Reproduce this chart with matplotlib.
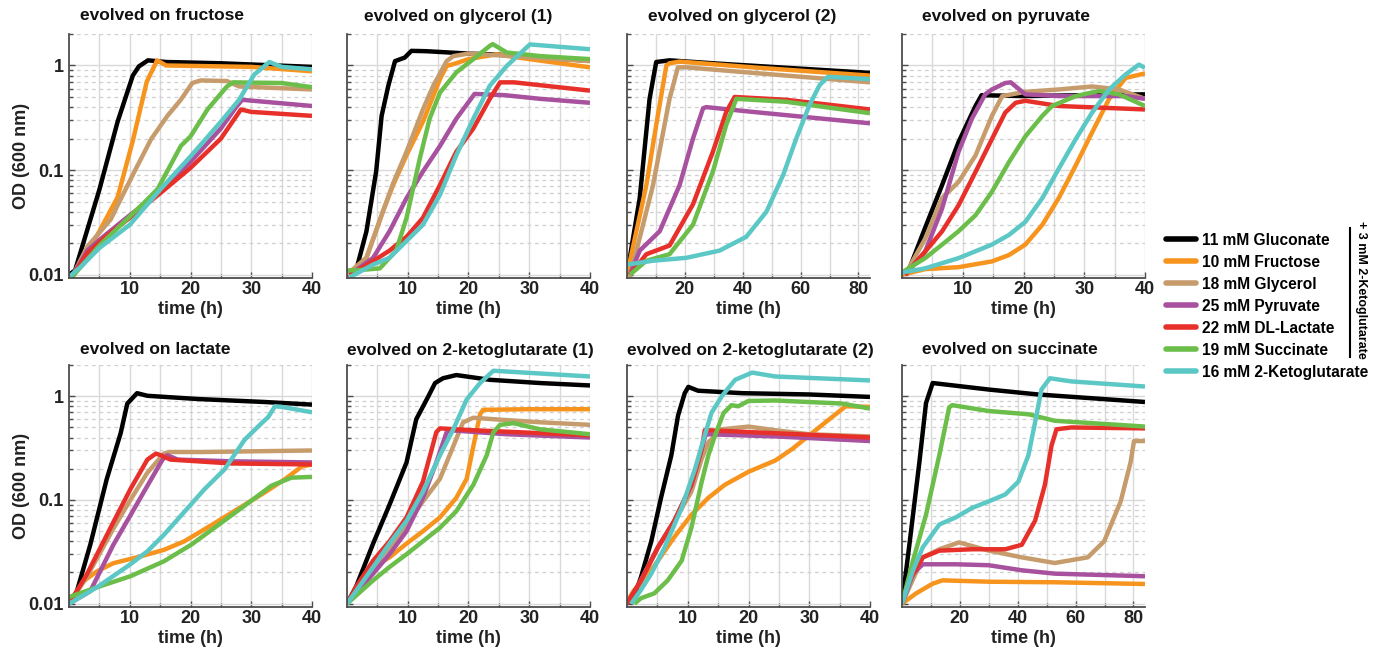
import matplotlib
matplotlib.use("Agg")
import matplotlib.pyplot as plt
from matplotlib.ticker import FixedLocator, NullFormatter, LogLocator
from matplotlib.lines import Line2D
from matplotlib import font_manager

plt.rcParams['font.family'] = ['Liberation Sans', 'DejaVu Sans']
plt.rcParams['font.weight'] = 'bold'

# ---------------- data (time in h, OD600) ----------------
media = ["gluconate", "fructose", "glycerol", "pyruvate", "lactate", "succinate", "ketoglutarate"]
legend_labels = ["11 mM Gluconate", "10 mM Fructose", "18 mM Glycerol", "25 mM Pyruvate",
                 "22 mM DL-Lactate", "19 mM Succinate", "16 mM 2-Ketoglutarate"]
colors = ["#000000", "#F7941D", "#C69C6D", "#A8519F", "#E8302A", "#6BBE4A", "#5BC8C6"]

titles = ["evolved on fructose", "evolved on glycerol (1)", "evolved on glycerol (2)", "evolved on pyruvate",
          "evolved on lactate", "evolved on 2-ketoglutarate (1)", "evolved on 2-ketoglutarate (2)",
          "evolved on succinate"]
xmax = [40, 40, 84, 40, 40, 40, 40, 84]
xticks_40 = [10, 20, 30, 40]
xticks_80 = [20, 40, 60, 80]

evolved_fructose = {
    "gluconate": ([0, 1, 5, 8, 10.5, 11.5, 13, 16, 25, 40],
                  [0.010, 0.011, 0.065, 0.29, 0.80, 0.98, 1.12, 1.08, 1.05, 0.97]),
    "fructose": ([0.5, 3, 5, 8, 10.5, 12.8, 14.5, 16, 30, 40],
                 [0.0095, 0.016, 0.026, 0.055, 0.19, 0.70, 1.12, 1.0, 0.97, 0.88]),
    "glycerol": ([0.5, 3, 5.2, 6.9, 8, 10.7, 13.5, 16.2, 18.4, 20.3, 21.7, 26, 28, 40],
                 [0.0095, 0.0185, 0.026, 0.034, 0.046, 0.095, 0.197, 0.33, 0.47, 0.68, 0.72, 0.71, 0.63, 0.59]),
    "pyruvate": ([0.5, 3, 6, 10, 15, 20, 25, 27.5, 28.5, 40],
                 [0.0095, 0.017, 0.024, 0.037, 0.062, 0.12, 0.25, 0.40, 0.47, 0.41]),
    "lactate": ([0.5, 3, 6, 10, 15, 20, 25, 28.3, 30, 40],
                [0.0095, 0.016, 0.023, 0.035, 0.060, 0.105, 0.20, 0.38, 0.36, 0.33]),
    "succinate": ([0.5, 5, 10, 12.4, 14.6, 18.4, 20, 22.8, 26, 27, 35, 40],
                  [0.0095, 0.019, 0.036, 0.049, 0.066, 0.17, 0.21, 0.38, 0.63, 0.69, 0.68, 0.62]),
    "ketoglutarate": ([0, 2, 5, 10, 15, 20, 25, 28, 30.5, 33, 35, 40],
                      [0.0095, 0.012, 0.018, 0.030, 0.065, 0.135, 0.29, 0.47, 0.82, 1.08, 0.97, 0.92]),
}

evolved_glycerol_1 = {
    "gluconate": ([0, 1.5, 3.2, 4.8, 5.7, 6.8, 7.9, 9.5, 10.6, 13, 20, 25, 30, 40],
                  [0.010, 0.011, 0.026, 0.097, 0.33, 0.64, 1.10, 1.19, 1.38, 1.37, 1.30, 1.27, 1.20, 1.11]),
    "fructose": ([0, 3.2, 5.9, 7.6, 9.8, 12.5, 15.3, 16.4, 17.5, 20, 24.6, 30, 40],
                 [0.010, 0.0145, 0.040, 0.072, 0.139, 0.29, 0.74, 0.99, 1.03, 1.15, 1.28, 1.15, 0.96]),
    "glycerol": ([0, 3.2, 5.9, 7.6, 9.8, 12.5, 14.2, 16.4, 17.5, 20, 30, 40],
                 [0.010, 0.0145, 0.040, 0.075, 0.15, 0.38, 0.64, 1.10, 1.23, 1.30, 1.20, 1.10]),
    "pyruvate": ([0.5, 4.3, 7, 9.8, 12.5, 15.3, 18, 21, 26, 31.8, 40],
                 [0.010, 0.0145, 0.026, 0.054, 0.097, 0.17, 0.31, 0.535, 0.52, 0.48, 0.44]),
    "lactate": ([0.5, 4.3, 7, 9.8, 12.5, 15.3, 18, 20.8, 23.5, 25.2, 27.5, 40],
                [0.010, 0.0135, 0.017, 0.023, 0.035, 0.072, 0.15, 0.25, 0.48, 0.69, 0.69, 0.575]),
    "succinate": ([0, 1.5, 5.4, 8.1, 9.8, 12, 13.6, 15.3, 18, 20.8, 23.5, 24, 26.3, 31.8, 40],
                  [0.011, 0.011, 0.0115, 0.017, 0.035, 0.13, 0.31, 0.55, 0.86, 1.15, 1.54, 1.60, 1.33, 1.23, 1.15]),
    "ketoglutarate": ([0.5, 4.3, 7, 9.8, 12.5, 15.3, 18, 20.8, 23.5, 26.3, 30.1, 40],
                      [0.0095, 0.0125, 0.0145, 0.021, 0.030, 0.058, 0.139, 0.31, 0.64, 0.99, 1.59, 1.43]),
}

evolved_glycerol_2 = {
    "gluconate": ([0, 4.4, 7.8, 10.1, 14.7, 32, 84],
                  [0.010, 0.054, 0.48, 1.08, 1.12, 1.04, 0.85]),
    "fructose": ([0, 6.7, 10.1, 13.6, 14.7, 18.2, 43.5, 84],
                 [0.010, 0.072, 0.27, 1.0, 1.05, 1.09, 0.96, 0.80]),
    "glycerol": ([1, 9, 14.7, 17.6, 20.5, 43.5, 84],
                 [0.0095, 0.072, 0.48, 0.96, 0.96, 0.85, 0.69]),
    "pyruvate": ([1, 4.4, 11.3, 18.2, 22.8, 26.3, 27.4, 43.5, 84],
                 [0.010, 0.017, 0.026, 0.072, 0.20, 0.39, 0.40, 0.36, 0.28]),
    "lactate": ([1, 6.7, 14.7, 22.8, 29.7, 34.3, 37.2, 55, 84],
                [0.010, 0.0157, 0.019, 0.047, 0.15, 0.36, 0.50, 0.47, 0.38]),
    "succinate": ([1, 6.7, 14.7, 22.8, 29.7, 34.3, 37.8, 55, 84],
                  [0.010, 0.0136, 0.0157, 0.030, 0.097, 0.27, 0.48, 0.45, 0.35]),
    "ketoglutarate": ([0, 9, 20.5, 32, 41.2, 48.2, 54, 58.5, 63.1, 66.6, 69.5, 84],
                      [0.0125, 0.0136, 0.0145, 0.017, 0.023, 0.040, 0.09, 0.20, 0.42, 0.65, 0.78, 0.74]),
}

evolved_pyruvate = {
    "gluconate": ([0, 1.1, 3.8, 6.6, 9.3, 12.1, 13.1, 20, 40],
                  [0.010, 0.011, 0.028, 0.072, 0.185, 0.41, 0.52, 0.51, 0.53]),
    "fructose": ([0, 3.8, 9.3, 14.8, 17.6, 20.3, 23.1, 25.8, 28.6, 31.3, 34.1, 36.8, 40],
                 [0.010, 0.0113, 0.0118, 0.0134, 0.0154, 0.0194, 0.030, 0.054, 0.111, 0.23, 0.48, 0.76, 0.84]),
    "glycerol": ([0.5, 3.8, 6.6, 9.3, 12.1, 14.8, 16.5, 20.3, 25.8, 31.3, 35.7, 40],
                 [0.010, 0.022, 0.054, 0.077, 0.138, 0.33, 0.51, 0.56, 0.59, 0.63, 0.59, 0.48]),
    "pyruvate": ([0.5, 3.8, 6.6, 9.3, 11.5, 13.7, 14.8, 17, 17.9, 20.3, 25.8, 36.8, 40],
                 [0.010, 0.0166, 0.043, 0.149, 0.31, 0.53, 0.59, 0.68, 0.69, 0.53, 0.51, 0.51, 0.48]),
    "lactate": ([0.5, 3.8, 6.6, 9.3, 12.1, 14.8, 17, 18.7, 20.3, 25.8, 40],
                [0.010, 0.0166, 0.026, 0.046, 0.096, 0.198, 0.355, 0.44, 0.46, 0.41, 0.38]),
    "succinate": ([0, 3.8, 6.6, 9.3, 12.1, 14.8, 17.6, 20.3, 23.1, 24.7, 28.6, 32.4, 35.7, 40],
                  [0.0105, 0.0144, 0.0194, 0.026, 0.037, 0.062, 0.119, 0.21, 0.33, 0.41, 0.51, 0.57, 0.53, 0.41]),
    "ketoglutarate": ([0, 3.8, 9.3, 14.8, 17.6, 20.3, 23.1, 25.8, 28.6, 31.3, 34.1, 36.8, 39, 40],
                      [0.0105, 0.0115, 0.0144, 0.0194, 0.024, 0.032, 0.054, 0.103, 0.198, 0.355, 0.59, 0.82, 1.02, 0.95]),
}

evolved_lactate = {
    "gluconate": ([0, 1.3, 3.5, 6.2, 8.5, 9.6, 11.2, 12.9, 21.2, 32.2, 40],
                  [0.010, 0.0132, 0.037, 0.158, 0.44, 0.85, 1.07, 1.01, 0.94, 0.88, 0.83]),
    "fructose": ([0, 2.4, 4.6, 7.3, 11.2, 15.6, 19, 23.4, 27.8, 32.2, 35.5, 38.3, 40],
                 [0.010, 0.0165, 0.0205, 0.0246, 0.028, 0.033, 0.040, 0.057, 0.082, 0.118, 0.158, 0.21, 0.22]),
    "glycerol": ([0, 2.9, 7.3, 10.1, 12.9, 15.6, 16.5, 22, 40],
                 [0.010, 0.018, 0.053, 0.10, 0.183, 0.28, 0.29, 0.29, 0.30]),
    "pyruvate": ([0, 3.5, 7.3, 10.1, 12.9, 15.4, 16.2, 17.9, 26.7, 40],
                 [0.010, 0.0132, 0.037, 0.071, 0.137, 0.245, 0.27, 0.245, 0.236, 0.23]),
    "lactate": ([0, 2.9, 7.3, 10.1, 12.9, 14.3, 15.1, 16.7, 26.7, 40],
                [0.010, 0.019, 0.061, 0.127, 0.245, 0.28, 0.27, 0.245, 0.225, 0.22]),
    "succinate": ([0, 4.6, 10.1, 15.6, 20.1, 24.5, 28.9, 33.3, 36.6, 40],
                  [0.0116, 0.0144, 0.0184, 0.0256, 0.037, 0.057, 0.088, 0.137, 0.164, 0.167]),
    "ketoglutarate": ([0, 4.6, 10.1, 12.9, 15.6, 19, 22.3, 25.6, 28.9, 31.7, 32.8, 33.9, 35, 40],
                      [0.010, 0.0144, 0.024, 0.032, 0.046, 0.077, 0.127, 0.197, 0.38, 0.55, 0.63, 0.80, 0.79, 0.70]),
}

evolved_ketoglutarate_1 = {
    "gluconate": ([0, 1.5, 4.3, 7, 9.8, 11.4, 13.4, 14.5, 15.8, 18, 23.5, 31.8, 40],
                  [0.010, 0.0146, 0.038, 0.090, 0.23, 0.60, 1.0, 1.34, 1.49, 1.60, 1.44, 1.34, 1.27]),
    "fructose": ([0, 4.3, 7, 9.8, 12.5, 15.3, 18, 19.7, 20.8, 21.9, 22.4, 30, 40],
                 [0.010, 0.0226, 0.028, 0.038, 0.050, 0.068, 0.105, 0.16, 0.33, 0.67, 0.74, 0.75, 0.75]),
    "glycerol": ([0, 4.3, 7, 9.8, 12.5, 15.3, 17.5, 19.1, 20.8, 26, 32, 40],
                 [0.010, 0.0226, 0.035, 0.058, 0.097, 0.16, 0.33, 0.56, 0.62, 0.59, 0.56, 0.53]),
    "pyruvate": ([0, 4.3, 7, 9.8, 12.5, 14.7, 16.4, 17, 26.3, 40],
                 [0.010, 0.0195, 0.030, 0.050, 0.105, 0.23, 0.45, 0.47, 0.43, 0.40]),
    "lactate": ([0, 1.5, 4.3, 7, 9.8, 12.5, 14.7, 15.3, 20.8, 40],
                [0.010, 0.0146, 0.026, 0.040, 0.068, 0.15, 0.45, 0.49, 0.47, 0.42]),
    "succinate": ([0, 4.3, 7, 9.8, 12.5, 15.3, 18, 20.8, 23, 24.1, 25.2, 27.4, 31.8, 40],
                  [0.010, 0.0168, 0.0226, 0.030, 0.040, 0.054, 0.078, 0.14, 0.27, 0.45, 0.53, 0.55, 0.48, 0.43]),
    "ketoglutarate": ([0, 4.3, 7, 9.8, 12.5, 15.3, 17.5, 19.7, 21.9, 24.1, 26.3, 40],
                      [0.010, 0.0226, 0.038, 0.063, 0.12, 0.27, 0.48, 0.93, 1.34, 1.76, 1.73, 1.55]),
}

evolved_ketoglutarate_2 = {
    "gluconate": ([0, 1.2, 2.3, 4, 5.6, 7.3, 8.4, 9.5, 10.1, 11.7, 19, 30, 40],
                  [0.010, 0.0118, 0.018, 0.040, 0.105, 0.27, 0.65, 1.07, 1.23, 1.13, 1.07, 1.04, 0.985]),
    "fructose": ([0, 1.2, 2.3, 5.1, 7.8, 10.6, 13.4, 16.1, 20, 24.4, 27.2, 30, 33.3, 36, 40],
                 [0.0105, 0.0136, 0.0156, 0.026, 0.044, 0.072, 0.105, 0.14, 0.187, 0.24, 0.31, 0.42, 0.60, 0.80, 0.79]),
    "glycerol": ([0, 2.3, 5.1, 7.8, 10.6, 12.3, 13.4, 15.6, 20, 24.4, 30, 40],
                 [0.010, 0.0168, 0.035, 0.063, 0.12, 0.25, 0.36, 0.48, 0.51, 0.47, 0.43, 0.41]),
    "pyruvate": ([0, 2.3, 5.1, 7.8, 10.6, 12.3, 12.9, 13.4, 24.4, 40],
                 [0.010, 0.0168, 0.035, 0.063, 0.14, 0.31, 0.42, 0.43, 0.41, 0.37]),
    "lactate": ([0, 2.3, 5.1, 7.8, 10.6, 12.3, 12.8, 13.4, 24.4, 40],
                [0.010, 0.0168, 0.035, 0.063, 0.14, 0.31, 0.47, 0.47, 0.44, 0.40]),
    "succinate": ([1.2, 2.3, 4.5, 6.7, 9, 10.6, 12.3, 13.4, 14.5, 15.9, 17.2, 18.3, 20, 24.4, 35.4, 40],
                  [0.010, 0.0113, 0.0126, 0.0168, 0.026, 0.054, 0.15, 0.27, 0.42, 0.69, 0.82, 0.80, 0.90, 0.91, 0.85, 0.76]),
    "ketoglutarate": ([0.7, 2.3, 4, 6.2, 9, 11.2, 12.8, 13.9, 15.6, 17.8, 20.6, 24.4, 40],
                      [0.010, 0.0136, 0.0195, 0.035, 0.084, 0.20, 0.42, 0.69, 1.0, 1.44, 1.69, 1.55, 1.42]),
}

evolved_succinate = {
    "gluconate": ([0, 2.6, 6, 8.3, 10.6, 30, 47, 84],
                  [0.010, 0.038, 0.23, 0.86, 1.34, 1.16, 1.04, 0.88]),
    "fructose": ([0, 4.9, 10.6, 14, 30, 52.8, 84],
                 [0.010, 0.0126, 0.0156, 0.0168, 0.0163, 0.0161, 0.0155]),
    "glycerol": ([0, 7.2, 12.9, 19.7, 30, 41.4, 52.8, 64.2, 69.9, 75.6, 79, 80.2, 84],
                 [0.010, 0.028, 0.0335, 0.039, 0.0325, 0.028, 0.0247, 0.028, 0.040, 0.097, 0.23, 0.37, 0.37]),
    "pyruvate": ([0, 3.8, 7.2, 18.6, 30, 41.4, 52.8, 84],
                 [0.010, 0.0195, 0.024, 0.024, 0.0235, 0.021, 0.0195, 0.0184]),
    "lactate": ([0, 2.6, 7.2, 12.9, 24.3, 35.7, 41.4, 46, 49.4, 51.7, 53.4, 58.5, 84],
                [0.010, 0.0168, 0.028, 0.0325, 0.0335, 0.0335, 0.037, 0.063, 0.14, 0.335, 0.48, 0.50, 0.49]),
    "succinate": ([0, 3.8, 8.3, 12.9, 16.3, 17.4, 30, 43.7, 52.8, 84],
                  [0.010, 0.026, 0.072, 0.27, 0.78, 0.82, 0.72, 0.67, 0.58, 0.51]),
    "ketoglutarate": ([0, 3.8, 7.2, 12.9, 18.6, 24.3, 30, 35.7, 40.2, 43.7, 46, 48.2, 51.1, 58.5, 84],
                      [0.010, 0.021, 0.035, 0.058, 0.068, 0.084, 0.097, 0.113, 0.15, 0.27, 0.56, 1.16, 1.49, 1.39, 1.24]),
}

panels = [evolved_fructose, evolved_glycerol_1, evolved_glycerol_2, evolved_pyruvate,
          evolved_lactate, evolved_ketoglutarate_1, evolved_ketoglutarate_2, evolved_succinate]

# ---------------- layout ----------------
W, H = 1384, 655
fig = plt.figure(figsize=(W / 100, H / 100), dpi=100)

col_left = [69, 347, 627, 902]
ax_w = 243
row_top = [34, 365]
row_h = [244, 242]
title_x = [80, 364, 648, 922, 80, 347, 627, 922]
title_y = [16, 350]

spine_col = "#4d4d4d"
axes = []
for i, data in enumerate(panels):
    r, c = divmod(i, 4)
    left = col_left[c] / W
    bottom = 1 - (row_top[r] + row_h[r]) / H
    ax = fig.add_axes([left, bottom, ax_w / W, row_h[r] / H])
    axes.append(ax)
    for m, col in zip(media, colors):
        t, od = data[m]
        ax.plot(t, od, color=col, lw=3.2, solid_capstyle='butt', solid_joinstyle='round')
    ax.set_yscale('log')
    ax.set_ylim(0.0093, 2.0)
    ax.set_xlim(0, xmax[i])
    if xmax[i] == 40:
        ax.set_xticks(xticks_40)
        ax.xaxis.set_minor_locator(FixedLocator([5, 15, 25, 35]))
    else:
        ax.set_xticks(xticks_80)
        ax.xaxis.set_minor_locator(FixedLocator([10, 30, 50, 70]))
    ax.set_yticks([0.01, 0.1, 1])
    ax.yaxis.set_minor_locator(LogLocator(base=10, subs=range(2, 10)))
    ax.yaxis.set_minor_formatter(NullFormatter())
    if c == 0:
        ax.set_yticklabels(["0.01", "0.1", "1"])
    else:
        ax.set_yticklabels([])
    ax.grid(True, which='major', axis='both', color='#d9d9d9', lw=1.0, ls='-')
    ax.grid(True, which='minor', axis='x', color='#d9d9d9', lw=1.0, ls='-')
    ax.grid(True, which='minor', axis='y', color='#cfcfcf', lw=0.9, ls=(0, (3, 3)))
    ax.set_axisbelow(True)
    for s in ['top', 'right']:
        ax.spines[s].set_visible(False)
    for s in ['left', 'bottom']:
        ax.spines[s].set_color(spine_col)
        ax.spines[s].set_linewidth(1.3)
    ax.tick_params(axis='both', which='both', direction='in', color=spine_col, width=1.0)
    ax.tick_params(axis='both', which='major', length=4, labelsize=13, pad=2, labelcolor='#222222')
    ax.tick_params(axis='both', which='minor', length=3)
    ax.tick_params(axis='y', which='major', pad=4)
    ax.set_xlabel("time (h)", fontsize=13, fontweight='bold', labelpad=2, color='#222222')
    for lab in ax.get_xticklabels() + ax.get_yticklabels():
        lab.set_fontweight('bold')
    fig.text(title_x[i] / W, 1 - title_y[r] / H, titles[i], fontsize=12.5, fontweight='bold',
             ha='left', va='center', color='#111111')
    if c == 0:
        yc = 1 - (row_top[r] + row_h[r] / 2) / H
        fig.text(22 / W, yc, "OD (600 nm)", rotation=90, fontsize=13, fontweight='bold',
                 ha='center', va='center', color='#222222')

# ---------------- legend ----------------
handles = [Line2D([0], [0], color=col, lw=4.0, solid_capstyle='round') for col in colors]
fig.legend(handles, legend_labels, loc='center left', bbox_to_anchor=(1166 / W, 1 - 306 / H),
           frameon=False, handlelength=1.9, handletextpad=0.4,
           labelspacing=0.45, borderpad=0, borderaxespad=0, prop={'weight': 'bold', 'size': 11.2})
fig.add_artist(Line2D([1350 / W, 1350 / W], [1 - 228 / H, 1 - 357 / H], color='black', lw=1.5,
                      transform=fig.transFigure))

narrow = None
for f in font_manager.fontManager.ttflist:
    if f.name == 'Liberation Sans Narrow':
        narrow = f.name
        break
if narrow:
    fig.text(1361 / W, 1 - 290 / H, "+ 3 mM 2-Ketoglutarate", rotation=-90, fontsize=11,
             family=[narrow, 'Liberation Sans'], fontweight='bold', ha='center', va='center')
else:
    fig.text(1361 / W, 1 - 290 / H, "+ 3 mM 2-Ketoglutarate", rotation=-90, fontsize=9,
             fontweight='bold', ha='center', va='center')

fig.savefig("out.png", dpi=100)
